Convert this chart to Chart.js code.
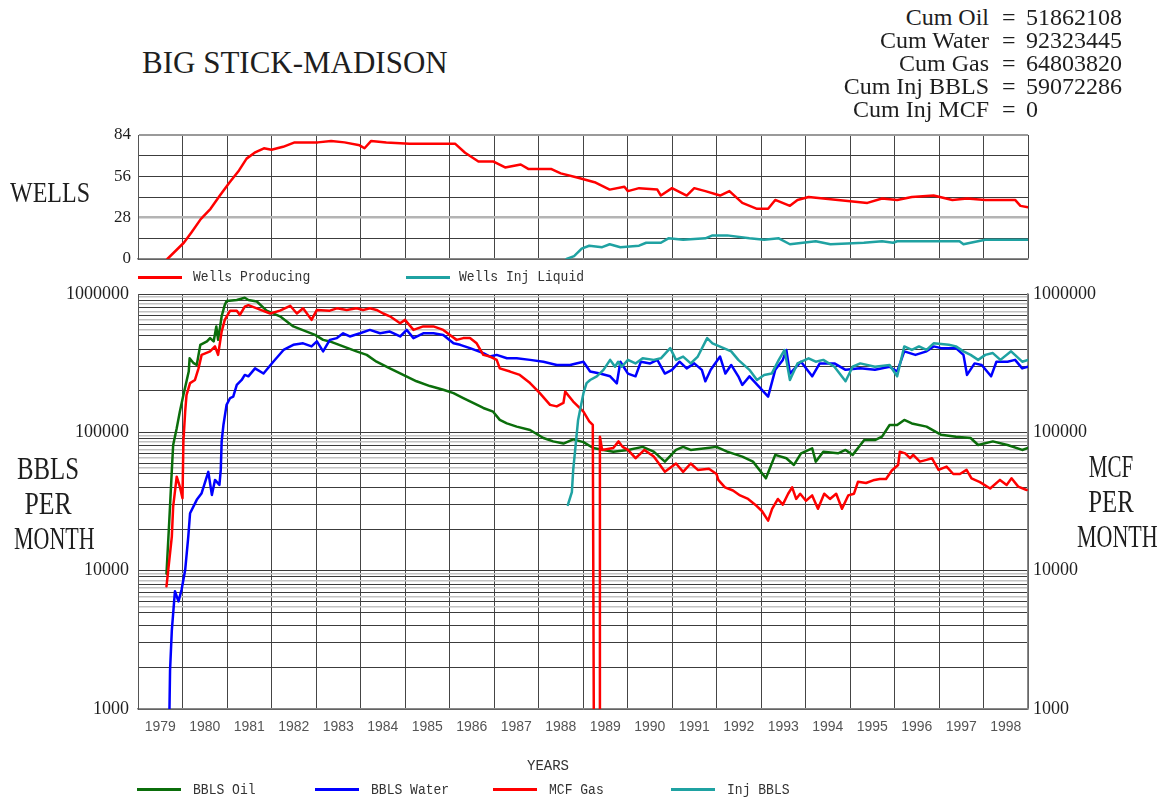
<!DOCTYPE html>
<html>
<head>
<meta charset="utf-8">
<script src="https://cdn.jsdelivr.net/npm/chart.js@4.4.1/dist/chart.umd.min.js"></script>
<style>
  html, body { margin:0; padding:0; background:#fff; width:1158px; height:797px; overflow:hidden; position:relative; }
  canvas { position:absolute; left:0; }
  .t { position:absolute; white-space:pre; color:#1e1e1e; }
  .serif { font-family:'Liberation Serif','Times New Roman',serif; }
  .mono { font-family:'Liberation Mono','Courier New',monospace; }
  .big { font-size:31px; line-height:35px; text-align:center; width:96px; }
  .big span { display:block; }
  .sw { position:absolute; height:3px; width:44px; }
  .lg { position:absolute; font-family:'Liberation Mono','Courier New',monospace; font-size:14px; line-height:14px; white-space:pre; color:#333; transform:scaleX(0.93); transform-origin:left center; }
  .cum { position:absolute; font-family:'Liberation Serif','Times New Roman',serif; font-size:24px; line-height:23px; color:#1e1e1e; white-space:pre; }
</style>
</head>
<body>
<canvas id="wells" width="1158" height="180" style="top:100px"></canvas>
<canvas id="prod" width="1158" height="531" style="top:266px"></canvas>

<div class="t serif" style="left:142px; top:47px; font-size:31px; line-height:31px;">BIG STICK-MADISON</div>
<div id="cum"></div>

<div class="t serif" style="left:0px; top:177px; width:96px; text-align:center; font-size:30px; line-height:30px;"><span style="display:inline-block; transform:scaleX(0.8);">WELLS</span></div>
<div class="t serif big" style="left:0px; top:451px;"><span style="transform:scaleX(0.8)">BBLS</span><span style="transform:scaleX(0.83)">PER</span><span style="transform:scaleX(0.71)">MONTH</span></div>
<div class="t serif big" style="left:1063px; top:449px;"><span style="transform:scaleX(0.68)">MCF</span><span style="transform:scaleX(0.8)">PER</span><span style="transform:scaleX(0.71)">MONTH</span></div>
<div class="t mono" style="left:527px; top:759px; font-size:14px; line-height:14px; color:#333;">YEARS</div>
<div id="legends"></div>

<script>
// ---------------- DATA ----------------
const yearLabels = ['1979','1980','1981','1982','1983','1984','1985','1986','1987','1988',
                    '1989','1990','1991','1992','1993','1994','1995','1996','1997','1998'];
const wellsTickLabels = [0, 28, 56, 84];
const prodTickLabels = [1000, 10000, 100000, 1000000];

const cumLabels = ['Cum Oil', 'Cum Water', 'Cum Gas', 'Cum Inj BBLS', 'Cum Inj MCF'];
const cumValues = [51862108, 92323445, 64803820, 59072286, 0];

// [decimal year, wells]
const wellsProducing = [[1979.66,0],[1980.03,11],[1980.20,18],[1980.41,27],[1980.63,34],[1980.84,43],[1981.06,52],[1981.27,60],[1981.44,68],[1981.62,72],[1981.83,75],[1982.00,74],[1982.26,76],[1982.52,79],[1982.78,79],[1983.04,79],[1983.34,80],[1983.64,79],[1983.98,77],[1984.09,75],[1984.24,80],[1984.58,79],[1985.10,78],[1985.62,78],[1986.13,78],[1986.35,72],[1986.65,66],[1986.99,66],[1987.25,62],[1987.60,64],[1987.77,61],[1988.28,61],[1988.50,58],[1988.89,55],[1989.26,52],[1989.60,47],[1989.93,49],[1990.01,46],[1990.26,48],[1990.67,47],[1990.75,43],[1991.00,48],[1991.33,43],[1991.50,48],[1991.75,46],[1992.08,43],[1992.29,46],[1992.58,38],[1992.91,34],[1993.16,34],[1993.32,40],[1993.65,36],[1993.82,40],[1994.07,42],[1994.73,40],[1995.39,38],[1995.72,41],[1996.06,40],[1996.39,42],[1996.88,43],[1997.30,40],[1997.63,41],[1998.04,40],[1998.71,40],[1998.83,36],[1999.00,35]];

const wellsInjLiquid = [[1988.63,0],[1988.80,2],[1988.97,7],[1989.14,9],[1989.43,8],[1989.60,10],[1989.84,8],[1990.26,9],[1990.42,11],[1990.75,11],[1990.92,14],[1991.25,13],[1991.75,14],[1991.91,16],[1992.24,16],[1992.74,14],[1993.07,13],[1993.40,14],[1993.65,10],[1994.23,12],[1994.56,10],[1995.31,11],[1995.72,12],[1995.97,11],[1996.06,12],[1997.46,12],[1997.55,10],[1997.71,11],[1998.04,13],[1999.00,13]];

// [decimal year, per month]
const oilBbls = [[1979.64,9500],[1979.70,22000],[1979.76,53000],[1979.79,81000],[1979.87,107000],[1979.94,141000],[1980.02,186000],[1980.14,275000],[1980.16,343000],[1980.25,316000],[1980.32,307000],[1980.40,429000],[1980.55,454000],[1980.62,480000],[1980.70,454000],[1980.76,583000],[1980.80,466000],[1980.88,690000],[1980.95,834000],[1980.99,890000],[1981.22,905000],[1981.40,940000],[1981.48,905000],[1981.67,883000],[1981.89,758000],[1982.19,690000],[1982.49,583000],[1982.79,535000],[1982.98,506000],[1983.16,466000],[1983.31,454000],[1983.61,418000],[1983.91,385000],[1984.14,363000],[1984.36,324000],[1984.66,290000],[1984.96,260000],[1985.26,234000],[1985.56,216000],[1985.86,203000],[1986.09,192000],[1986.31,177000],[1986.53,163000],[1986.76,150000],[1986.98,141000],[1987.13,123000],[1987.29,116000],[1987.51,110000],[1987.81,104000],[1988.11,91000],[1988.33,86000],[1988.56,83000],[1988.78,89000],[1989.01,85000],[1989.23,77000],[1989.46,74600],[1989.68,72500],[1990.01,74600],[1990.34,78500],[1990.59,72500],[1990.84,61400],[1991.09,74600],[1991.25,78500],[1991.42,74600],[1991.75,76700],[1992.00,78500],[1992.24,72500],[1992.58,66800],[1992.82,61400],[1993.11,46500],[1993.32,68700],[1993.57,65000],[1993.74,58100],[1993.90,70500],[1994.15,76700],[1994.23,61400],[1994.40,72500],[1994.73,70500],[1994.90,74600],[1995.06,68700],[1995.32,88000],[1995.56,88000],[1995.72,93000],[1995.89,113000],[1996.06,113000],[1996.22,123000],[1996.39,116000],[1996.72,110000],[1997.05,96000],[1997.38,93000],[1997.71,91000],[1997.88,81000],[1998.21,86000],[1998.54,81000],[1998.87,74600],[1999.00,77000]];

const waterBbls = [[1979.70,700],[1979.72,1900],[1979.76,3700],[1979.83,7100],[1979.91,6000],[1979.98,7300],[1980.06,10100],[1980.13,17600],[1980.17,26000],[1980.32,32500],[1980.43,36300],[1980.58,51800],[1980.66,35300],[1980.73,45300],[1980.83,41700],[1980.86,53500],[1980.88,86000],[1980.92,113000],[1980.99,158000],[1981.07,177000],[1981.14,181000],[1981.22,220000],[1981.33,239000],[1981.40,260000],[1981.48,254000],[1981.63,290000],[1981.82,266000],[1982.04,324000],[1982.27,394000],[1982.49,429000],[1982.71,440000],[1982.90,418000],[1983.02,454000],[1983.16,385000],[1983.31,466000],[1983.47,480000],[1983.61,520000],[1983.76,493000],[1983.99,520000],[1984.21,550000],[1984.44,520000],[1984.66,535000],[1984.89,493000],[1985.04,550000],[1985.19,480000],[1985.41,520000],[1985.64,520000],[1985.86,506000],[1986.09,440000],[1986.24,429000],[1986.46,406000],[1986.76,374000],[1986.91,353000],[1987.06,363000],[1987.29,343000],[1987.51,343000],[1987.81,334000],[1988.11,324000],[1988.41,307000],[1988.71,307000],[1989.01,324000],[1989.16,275000],[1989.38,266000],[1989.61,254000],[1989.76,226000],[1989.84,324000],[1990.01,266000],[1990.18,254000],[1990.30,324000],[1990.51,315000],[1990.67,334000],[1990.84,266000],[1991.00,283000],[1991.17,324000],[1991.33,290000],[1991.50,315000],[1991.67,283000],[1991.75,234000],[1991.87,283000],[1992.08,353000],[1992.20,266000],[1992.33,307000],[1992.49,254000],[1992.58,220000],[1992.74,254000],[1992.99,208000],[1993.16,181000],[1993.32,283000],[1993.49,334000],[1993.57,394000],[1993.65,266000],[1993.90,324000],[1994.15,254000],[1994.32,315000],[1994.65,315000],[1994.90,283000],[1995.23,290000],[1995.56,283000],[1995.89,298000],[1996.06,275000],[1996.22,385000],[1996.47,363000],[1996.72,385000],[1996.88,418000],[1997.05,406000],[1997.38,406000],[1997.55,363000],[1997.63,260000],[1997.80,315000],[1997.96,307000],[1998.17,254000],[1998.29,324000],[1998.54,324000],[1998.71,334000],[1998.87,290000],[1999.00,298000]];

const gasMcf = [[1979.64,7700],[1979.76,17600],[1979.79,29000],[1979.87,47800],[1979.94,40500],[1980.00,33400],[1980.02,86000],[1980.06,141000],[1980.09,186000],[1980.17,227000],[1980.28,239000],[1980.36,290000],[1980.43,363000],[1980.62,385000],[1980.73,418000],[1980.80,363000],[1980.88,535000],[1980.95,650000],[1981.07,758000],[1981.22,758000],[1981.29,706000],[1981.40,810000],[1981.48,830000],[1981.67,788000],[1981.97,723000],[1982.19,758000],[1982.42,822000],[1982.57,723000],[1982.71,788000],[1982.90,650000],[1983.02,767000],[1983.31,758000],[1983.47,788000],[1983.69,767000],[1983.91,788000],[1984.06,767000],[1984.21,788000],[1984.36,767000],[1984.51,723000],[1984.66,690000],[1984.89,615000],[1985.00,650000],[1985.19,550000],[1985.41,583000],[1985.64,583000],[1985.86,550000],[1986.01,506000],[1986.16,466000],[1986.31,480000],[1986.46,480000],[1986.61,440000],[1986.76,363000],[1986.91,353000],[1987.06,334000],[1987.13,290000],[1987.36,275000],[1987.58,260000],[1987.81,227000],[1988.03,192000],[1988.26,158000],[1988.41,154000],[1988.56,163000],[1988.60,197000],[1988.78,167000],[1989.01,141000],[1989.14,120000],[1989.22,113000],[1989.25,200],[1989.36,200],[1989.38,93000],[1989.43,74600],[1989.68,77000],[1989.80,86000],[1989.89,78500],[1990.01,74600],[1990.18,65000],[1990.38,74600],[1990.59,66800],[1990.84,51800],[1991.09,59500],[1991.25,51800],[1991.42,59500],[1991.58,53500],[1991.83,54500],[1992.00,50000],[1992.04,45300],[1992.19,40000],[1992.37,38000],[1992.53,35000],[1992.71,33000],[1992.87,30000],[1993.02,27000],[1993.16,23000],[1993.25,28000],[1993.38,33000],[1993.49,30000],[1993.61,36000],[1993.70,40000],[1993.79,33000],[1993.88,36000],[1994.01,32000],[1994.15,35000],[1994.28,28000],[1994.42,36000],[1994.55,33000],[1994.69,36000],[1994.82,28000],[1994.96,35000],[1995.09,36000],[1995.18,44000],[1995.36,43000],[1995.52,45000],[1995.67,46000],[1995.81,46000],[1995.94,53000],[1996.08,58000],[1996.12,72500],[1996.24,70500],[1996.35,65000],[1996.42,68700],[1996.57,61400],[1996.72,63200],[1996.84,65000],[1996.99,53500],[1997.17,56500],[1997.32,50000],[1997.47,50000],[1997.62,53500],[1997.73,46500],[1997.92,43700],[1998.15,39300],[1998.37,45300],[1998.52,41700],[1998.63,46500],[1998.78,40500],[1998.97,38300]];

const injBbls = [[1988.66,29900],[1988.75,37000],[1988.78,53500],[1988.89,123000],[1989.01,192000],[1989.08,227000],[1989.16,239000],[1989.31,254000],[1989.46,283000],[1989.61,334000],[1989.72,298000],[1989.79,324000],[1989.87,298000],[1990.01,334000],[1990.18,315000],[1990.34,343000],[1990.59,334000],[1990.75,343000],[1990.96,406000],[1991.09,334000],[1991.25,353000],[1991.42,315000],[1991.58,353000],[1991.79,480000],[1991.91,440000],[1992.16,406000],[1992.33,385000],[1992.49,334000],[1992.74,283000],[1992.91,239000],[1993.07,260000],[1993.24,266000],[1993.40,334000],[1993.53,394000],[1993.65,239000],[1993.82,315000],[1994.07,343000],[1994.23,324000],[1994.40,334000],[1994.65,298000],[1994.90,234000],[1995.06,298000],[1995.23,315000],[1995.56,298000],[1995.89,307000],[1996.06,254000],[1996.22,418000],[1996.39,394000],[1996.55,418000],[1996.72,394000],[1996.88,440000],[1997.22,429000],[1997.38,418000],[1997.55,385000],[1997.71,363000],[1997.88,334000],[1998.04,363000],[1998.21,374000],[1998.38,334000],[1998.62,385000],[1998.87,324000],[1999.00,334000]];

// ---------------- STYLE ----------------
const RED = '#ff0000', TEAL = '#1fa2a2', GREEN = '#0b6e0b', BLUE = '#0000ff';
const SERIF = "'Liberation Serif','Times New Roman',serif";
const SANS = "'Liberation Sans',Arial,sans-serif";
const toXY = pairs => pairs.map(p => ({ x: p[0], y: p[1] }));

const xTicks = [];
yearLabels.forEach(y => { xTicks.push(+y); xTicks.push(+y + 0.5); });
xTicks.push(+yearLabels[yearLabels.length - 1] + 1);

function xScale(showLabels, h) {
  return {
    type: 'linear', min: xTicks[0], max: xTicks[xTicks.length - 1],
    afterBuildTicks: s => { s.ticks = xTicks.map(v => ({ value: v })); },
    ticks: {
      display: showLabels, autoSkip: false, maxRotation: 0, minRotation: 0, padding: 10,
      color: '#555', font: { family: SANS, size: 14 },
      callback: v => (v % 1 === 0.5) ? String(Math.floor(v)) : ''
    },
    grid: {
      drawTicks: false, lineWidth: 1,
      color: c => (c.tick && c.tick.value % 1 === 0) ? '#454545' : 'rgba(0,0,0,0)'
    },
    border: { display: true, color: '#8a8a8a', width: 1.5 },
    afterFit: s => { s.height = h; }
  };
}

const common = {
  responsive: false, animation: false, events: [],
  plugins: { legend: { display: false }, tooltip: { enabled: false }, title: { display: false } },
  elements: { point: { radius: 0 }, line: { tension: 0, borderJoinStyle: 'round', borderCapStyle: 'round' } }
};

// ---------------- WELLS PANEL ----------------
const wellsSeries = [
  { label: 'Wells Producing', data: wellsProducing, color: RED },
  { label: 'Wells Inj Liquid', data: wellsInjLiquid, color: TEAL }
];
new Chart(document.getElementById('wells'), {
  type: 'line',
  data: { datasets: wellsSeries.map(s => ({ label: s.label, data: toXY(s.data), borderColor: s.color, borderWidth: 2.5, pointRadius: 0 })) },
  options: Object.assign({}, common, {
    layout: { padding: { top: 35, right: 130, bottom: 0, left: 0 } },
    scales: {
      x: xScale(false, 21),
      y: {
        type: 'linear', min: 0, max: 84,
        afterBuildTicks: s => { s.ticks = [0, 14, 28, 42, 56, 70, 84].map(v => ({ value: v })); },
        ticks: { autoSkip: false, padding: 7, color: '#1e1e1e', font: { family: SERIF, size: 17 },
                 callback: v => wellsTickLabels.includes(v) ? String(v) : '' },
        grid: { drawTicks: false,
                color: c => c.tick.value === 28 ? '#b4b4b4' : (c.tick.value === 84 ? '#9a9a9a' : '#3c3c3c'),
                lineWidth: c => c.tick.value === 28 ? 2.5 : (c.tick.value === 84 ? 2 : 1) },
        border: { display: true, color: '#555', width: 1 },
        afterFit: s => { s.width = 138; }
      }
    }
  })
});

// ---------------- PRODUCTION PANEL ----------------
const decades = [1000, 10000, 100000];
const logTicks = [], halfTicks = [];
decades.forEach(d => {
  [1, 2, 3, 4, 5, 6, 7, 8, 9].forEach(m => logTicks.push(d * m));
  halfTicks.push(d);
  [5.5, 6.5, 7.5, 8.5, 9.5].forEach(m => halfTicks.push(d * m));
});
logTicks.push(1000000); halfTicks.push(1000000);

const prodSeries = [
  { label: 'BBLS Oil', data: oilBbls, color: GREEN, order: 3 },
  { label: 'BBLS Water', data: waterBbls, color: BLUE, order: 2 },
  { label: 'MCF Gas', data: gasMcf, color: RED, order: 1 },
  { label: 'Inj BBLS', data: injBbls, color: TEAL, order: 0 }
];
new Chart(document.getElementById('prod'), {
  type: 'line',
  data: { datasets: prodSeries.map(s => ({ label: s.label, data: toXY(s.data), borderColor: s.color, borderWidth: 2.5, pointRadius: 0, order: s.order, yAxisID: 'y' })) },
  options: Object.assign({}, common, {
    layout: { padding: { top: 28, right: 0, bottom: 0, left: 0 } },
    scales: {
      x: xScale(true, 88),
      y: {
        type: 'logarithmic', position: 'left', min: 1000, max: 1000000,
        afterBuildTicks: s => { s.ticks = logTicks.map(v => ({ value: v })); },
        ticks: { autoSkip: false, padding: 9, color: '#1e1e1e', font: { family: SERIF, size: 18 },
                 callback: v => prodTickLabels.includes(v) ? String(v) : '' },
        grid: { drawTicks: false, color: '#3c3c3c', lineWidth: 1 },
        border: { display: true, color: '#555', width: 1 },
        afterFit: s => { s.width = 138; }
      },
      y2: {
        type: 'logarithmic', position: 'right', min: 1000, max: 1000000,
        afterBuildTicks: s => { s.ticks = halfTicks.map(v => ({ value: v })); },
        ticks: { autoSkip: false, padding: 5, color: '#1e1e1e', font: { family: SERIF, size: 18 },
                 callback: v => prodTickLabels.includes(v) ? String(v) : '' },
        grid: { drawTicks: false, lineWidth: 1.5,
                color: c => prodTickLabels.includes(c.tick.value) ? 'rgba(0,0,0,0)' : '#c2c2c2' },
        border: { display: true, color: '#8a8a8a', width: 1.5 },
        afterFit: s => { s.width = 130; }
      }
    }
  })
});

// ---------------- TEXT: cumulative block & legends ----------------
const cumHost = document.getElementById('cum');
cumLabels.forEach((l, i) => {
  const top = 6 + i * 23;
  const a = document.createElement('div');
  a.className = 'cum'; a.style.right = (1158 - 989) + 'px'; a.style.top = top + 'px'; a.style.textAlign = 'right';
  a.textContent = l;
  const e = document.createElement('div');
  e.className = 'cum'; e.style.left = '1002px'; e.style.top = top + 'px';
  e.textContent = '=';
  const v = document.createElement('div');
  v.className = 'cum'; v.style.left = '1026px'; v.style.top = top + 'px';
  v.textContent = String(cumValues[i]);
  cumHost.appendChild(a); cumHost.appendChild(e); cumHost.appendChild(v);
});

const legendHost = document.getElementById('legends');
function addLegend(items, lineLefts, textLefts, lineTop, textTop) {
  items.forEach((s, i) => {
    const sw = document.createElement('div');
    sw.className = 'sw';
    sw.style.left = lineLefts[i] + 'px'; sw.style.top = lineTop + 'px'; sw.style.background = s.color;
    legendHost.appendChild(sw);
    const tx = document.createElement('div');
    tx.className = 'lg';
    tx.style.left = textLefts[i] + 'px'; tx.style.top = textTop + 'px';
    tx.textContent = s.label;
    legendHost.appendChild(tx);
  });
}
addLegend(wellsSeries, [138, 406], [193, 459], 276, 270);
addLegend(prodSeries, [137, 315, 493, 671], [193, 371, 549, 727], 788, 783);
</script>
</body>
</html>
